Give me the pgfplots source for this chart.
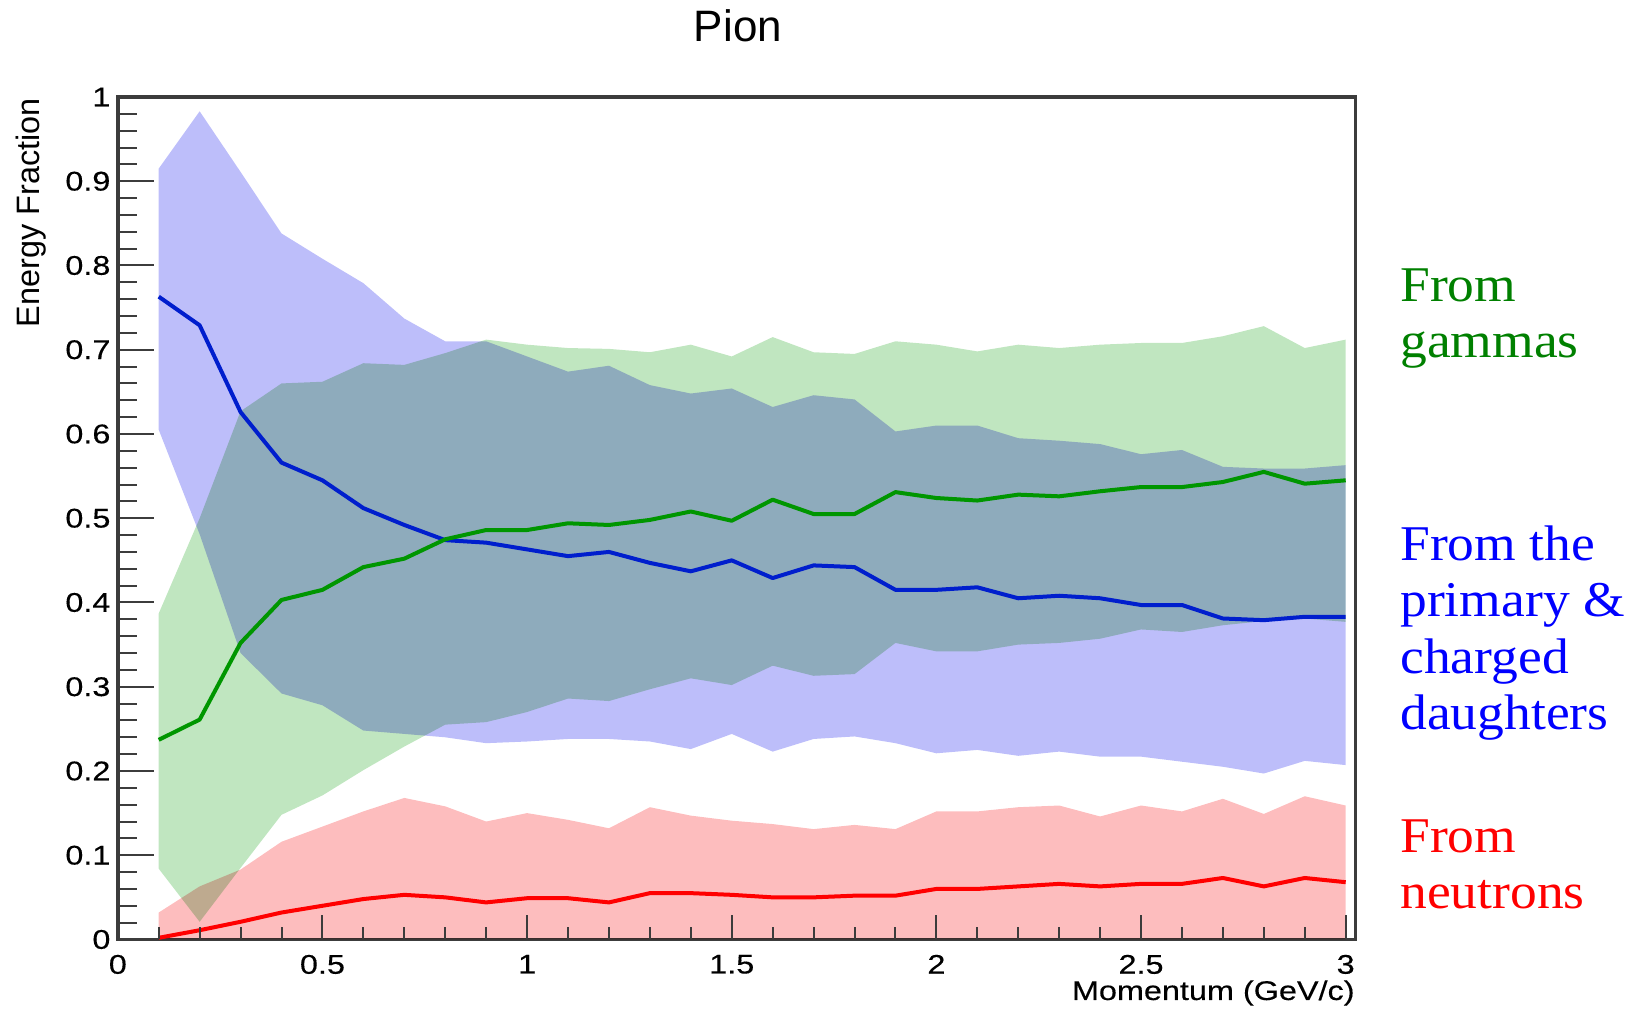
\documentclass[border=0pt]{standalone}
\usepackage{fontspec}
\setmainfont{Liberation Sans}
\newfontfamily\tickfont[FakeStretch=1.2,FakeBold=0.3]{Liberation Sans}
\newfontfamily\notefont[FakeStretch=1.07]{Liberation Serif}
\usepackage{pgfplots}
\usepackage{pgfplotstable}
\usepgfplotslibrary{fillbetween}
\pgfplotsset{compat=1.18}

\definecolor{bandgreen}{RGB}{192,230,192}
\definecolor{bandblue}{RGB}{189,190,250}
\definecolor{bandred}{RGB}{253,189,190}
\definecolor{linegreen}{RGB}{0,150,0}
\definecolor{lineblue}{RGB}{0,30,205}
\definecolor{linered}{RGB}{255,0,0}
\definecolor{txtgreen}{RGB}{0,128,0}
\definecolor{txtblue}{RGB}{0,0,255}
\definecolor{txtred}{RGB}{255,0,0}
\definecolor{framegray}{RGB}{60,60,60}

% Mean energy fraction and +-1 sigma band for each component (pion showers)
% r: neutrons, b: primary & charged daughters, g: gammas
\pgfplotstableread{
x    rm    rlo  rhi    bm    blo    bhi    gm    glo    ghi
0.1  0.002 0    0.032  0.763 0.605  0.915  0.237 0.084  0.387
0.2  0.011 0    0.063  0.729 0.481  0.983  0.261 0.021  0.500
0.3  0.021 0    0.083  0.626 0.340  0.911  0.352 0.085  0.627
0.4  0.032 0    0.116  0.566 0.292  0.838  0.403 0.148  0.660
0.5  0.040 0    0.134  0.545 0.278  0.808  0.415 0.171  0.662
0.6  0.048 0    0.152  0.512 0.248  0.779  0.442 0.201  0.684
0.7  0.053 0    0.168  0.492 0.244  0.737  0.452 0.229  0.682
0.8  0.050 0    0.158  0.474 0.240  0.710  0.475 0.255  0.696
0.9  0.044 0    0.140  0.471 0.233  0.710  0.486 0.258  0.712
1.0  0.049 0    0.150  0.463 0.235  0.692  0.486 0.270  0.706
1.1  0.049 0    0.142  0.455 0.238  0.674  0.494 0.286  0.702
1.2  0.044 0    0.132  0.460 0.238  0.681  0.492 0.283  0.701
1.3  0.055 0    0.157  0.447 0.235  0.658  0.498 0.297  0.697
1.4  0.055 0    0.147  0.437 0.226  0.648  0.508 0.310  0.706
1.5  0.053 0    0.141  0.450 0.244  0.654  0.497 0.302  0.692
1.6  0.050 0    0.137  0.429 0.223  0.632  0.522 0.325  0.715
1.7  0.050 0    0.131  0.444 0.238  0.646  0.505 0.313  0.697
1.8  0.052 0    0.136  0.442 0.241  0.641  0.505 0.315  0.695
1.9  0.052 0    0.131  0.415 0.233  0.603  0.531 0.352  0.710
2.0  0.060 0    0.152  0.415 0.221  0.610  0.524 0.342  0.706
2.1  0.060 0    0.152  0.418 0.225  0.610  0.521 0.342  0.698
2.2  0.063 0    0.157  0.405 0.218  0.595  0.528 0.350  0.706
2.3  0.066 0    0.159  0.408 0.223  0.592  0.526 0.352  0.702
2.4  0.063 0    0.146  0.405 0.217  0.588  0.532 0.357  0.706
2.5  0.066 0    0.159  0.397 0.217  0.576  0.537 0.368  0.708
2.6  0.066 0    0.152  0.397 0.211  0.581  0.537 0.365  0.708
2.7  0.073 0    0.167  0.381 0.205  0.561  0.543 0.373  0.716
2.8  0.063 0    0.149  0.379 0.197  0.559  0.555 0.378  0.728
2.9  0.073 0    0.170  0.383 0.212  0.559  0.541 0.381  0.702
3.0  0.068 0    0.159  0.383 0.207  0.563  0.545 0.377  0.712
}\pion

\pgfplotsset{
  pionframe/.style={
    at={(58.9pt,40.25pt)}, anchor=south west,
    width=618.85pt, height=421.25pt, scale only axis,
    xmin=0, xmax=3.024, ymin=0, ymax=1,
    tick align=inside, xtick pos=left, ytick pos=left,
    tick style={draw=framegray, line width=1pt},
  },
}

\begin{document}
\begin{tikzpicture}
% main axis: frame, y ticks and the data
\begin{axis}[
  pionframe,
  xtick=\empty,
  ytick={0,0.1,0.2,0.3,0.4,0.5,0.6,0.7,0.8,0.9,1},
  yticklabels={0,0.1,0.2,0.3,0.4,0.5,0.6,0.7,0.8,0.9,1},
  minor y tick num=4,
  major tick length=18.3pt, minor tick length=9.5pt,
  axis line style={draw=framegray, line width=1.75pt},
  yticklabel style={font=\tickfont\fontsize{13.5}{14}\selectfont, inner sep=0pt, xshift=-3.5pt},
  every axis plot/.append style={no markers, line join=round},
]
% band edges
\addplot[draw=none, name path=rhi] table[x=x, y=rhi]{\pion};
\addplot[draw=none, name path=rlo] table[x=x, y=rlo]{\pion};
\addplot[draw=none, name path=bhi] table[x=x, y=bhi]{\pion};
\addplot[draw=none, name path=blo] table[x=x, y=blo]{\pion};
\addplot[draw=none, name path=ghi] table[x=x, y=ghi]{\pion};
\addplot[draw=none, name path=glo] table[x=x, y=glo]{\pion};
% bands
\addplot[fill=bandred, draw=none, blend mode=multiply] fill between[of=rhi and rlo];
\addplot[fill=bandblue, draw=none, blend mode=multiply] fill between[of=bhi and blo];
\addplot[fill=bandgreen, draw=none, blend mode=multiply] fill between[of=ghi and glo];
% means
\addplot[draw=linered, line width=2pt] table[x=x, y=rm]{\pion};
\addplot[draw=lineblue, line width=2pt] table[x=x, y=bm]{\pion};
\addplot[draw=linegreen, line width=2pt] table[x=x, y=gm]{\pion};
\end{axis}

% same frame again, carrying the shorter x ticks and their labels
\begin{axis}[
  pionframe,
  ytick=\empty,
  xtick={0,0.5,1,1.5,2,2.5,3},
  xticklabels={0,0.5,1,1.5,2,2.5,3},
  minor x tick num=4,
  major tick length=12pt, minor tick length=6pt,
  axis line style={draw=none},
  xticklabel style={font=\tickfont\fontsize{13.5}{14}\selectfont, inner sep=0pt, yshift=-7.5pt},
]
\end{axis}

\node[anchor=base, inner sep=0pt, font=\fontsize{22}{24}\selectfont] at (369pt,489.2pt) {Pion};
\node[anchor=base east, inner sep=0pt, font=\tickfont\fontsize{13.5}{14}\selectfont] at (677.5pt,10pt) {Momentum (GeV/c)};
\node[anchor=base east, inner sep=0pt, rotate=90, font=\fontsize{16.2}{18}\selectfont] at (19.7pt,461pt) {Energy Fraction};

\begin{scope}[every node/.style={anchor=base west, inner sep=0pt, font=\notefont\fontsize{25}{28}\selectfont}]
\node[text=txtgreen] at (700pt,359pt) {From};
\node[text=txtgreen] at (700pt,331pt) {gammas};
\node[text=txtblue] at (700pt,229.5pt) {From the};
\node[text=txtblue] at (700pt,201.5pt) {primary \&};
\node[text=txtblue] at (700pt,173pt) {charged};
\node[text=txtblue] at (700pt,145pt) {daughters};
\node[text=txtred] at (700pt,83.5pt) {From};
\node[text=txtred] at (700pt,55.5pt) {neutrons};
\end{scope}

\pgfresetboundingbox
\useasboundingbox (0pt,0pt) rectangle (817.5pt,510pt);
\end{tikzpicture}
\end{document}
